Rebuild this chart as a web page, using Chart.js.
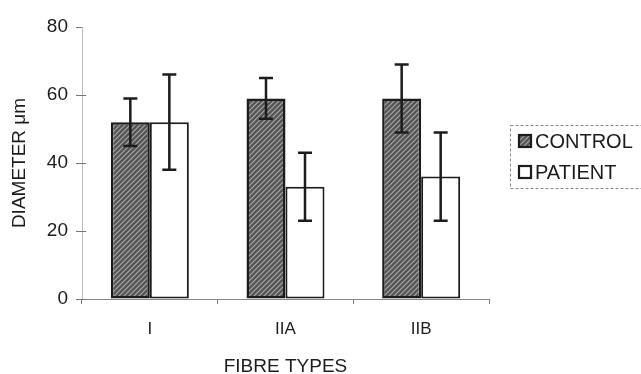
<!DOCTYPE html>
<html>
<head>
<meta charset="utf-8">
<script src="https://cdn.jsdelivr.net/npm/chart.js@4/dist/chart.umd.min.js"></script>
<style>
  html, body { margin: 0; padding: 0; background: #fff; }
  #wrap { width: 641px; height: 374px; }
</style>
</head>
<body>
<div id="wrap"><canvas id="c" width="641" height="374"></canvas></div>
<script>
const categories = ['I', 'IIA', 'IIB'];
const seriesNames = ['CONTROL', 'PATIENT'];
const controlMean = [52, 59, 59];
const controlErr = [7, 6, 10];
const patientMean = [52, 33, 36];
const patientErr = [14, 10, 13];
const yTicks = [0, 20, 40, 60, 80];
const yTitle = 'DIAMETER \u03BCm';
const xTitle = 'FIBRE TYPES';

const FONT = "'Liberation Sans', Arial, sans-serif";
const INK = '#1c1c1c';

function makeHatch() {
  const p = document.createElement('canvas');
  p.width = 5; p.height = 5;
  const g = p.getContext('2d');
  g.fillStyle = '#555555';
  g.fillRect(0, 0, 5, 5);
  g.strokeStyle = '#aaaaaa';
  g.lineWidth = 1.1;
  g.beginPath();
  g.moveTo(-1, 6); g.lineTo(6, -1);
  g.moveTo(-1, 1); g.lineTo(1, -1);
  g.moveTo(4, 6); g.lineTo(6, 4);
  g.stroke();
  return document.getElementById('c').getContext('2d').createPattern(p, 'repeat');
}
const hatch = makeHatch();

const errorBars = {
  id: 'errorBars',
  afterDatasetsDraw(chart) {
    const ctx = chart.ctx;
    const y = chart.scales.y;
    const errs = [controlErr, patientErr];
    ctx.save();
    ctx.strokeStyle = INK;
    ctx.lineWidth = 2.5;
    chart.data.datasets.forEach((ds, di) => {
      const meta = chart.getDatasetMeta(di);
      meta.data.forEach((bar, i) => {
        const v = ds.data[i], e = errs[di][i];
        const yt = y.getPixelForValue(v + e), yb = y.getPixelForValue(v - e);
        const x = bar.x, cap = 7;
        ctx.beginPath();
        ctx.moveTo(x, yt); ctx.lineTo(x, yb);
        ctx.moveTo(x - cap, yt); ctx.lineTo(x + cap, yt);
        ctx.moveTo(x - cap, yb); ctx.lineTo(x + cap, yb);
        ctx.stroke();
      });
    });
    ctx.restore();
  }
};

const extras = {
  id: 'extras',
  afterDraw(chart) {
    const ctx = chart.ctx;
    const y = chart.scales.y, x = chart.scales.x;
    ctx.save();
    // inner halves of the cross tick marks
    ctx.strokeStyle = '#777';
    ctx.lineWidth = 1;
    yTicks.slice(0, -1).forEach(t => {
      const py = Math.round(y.getPixelForValue(t)) + 0.5;
      ctx.beginPath(); ctx.moveTo(x.left, py); ctx.lineTo(x.left + 4, py); ctx.stroke();
    });
    // legend
    const lx = 510, ly = 125, lw = 140, lh = 63;
    ctx.setLineDash([3, 2]);
    ctx.strokeStyle = '#888';
    ctx.lineWidth = 1;
    ctx.strokeRect(lx + 0.5, ly + 0.5, lw, lh);
    ctx.setLineDash([]);
    const items = [
      { fill: hatch, cy: 141 },
      { fill: '#ffffff', cy: 172 }
    ];
    ctx.font = '20px ' + FONT;
    ctx.textBaseline = 'middle';
    items.forEach((it, i) => {
      ctx.fillStyle = it.fill;
      ctx.fillRect(519, it.cy - 6, 12, 12);
      ctx.strokeStyle = INK;
      ctx.lineWidth = 2.2;
      ctx.strokeRect(519, it.cy - 6, 12, 12);
      ctx.fillStyle = INK;
      ctx.fillText(seriesNames[i], 535, it.cy + 1);
    });
    ctx.restore();
  }
};

new Chart(document.getElementById('c'), {
  type: 'bar',
  data: {
    labels: categories,
    datasets: [
      { label: seriesNames[0], data: controlMean, backgroundColor: hatch,
        borderColor: INK, borderWidth: 2.5, borderSkipped: false,
        categoryPercentage: 0.575, barPercentage: 1 },
      { label: seriesNames[1], data: patientMean, backgroundColor: '#ffffff',
        borderColor: INK, borderWidth: 2, borderSkipped: false,
        categoryPercentage: 0.575, barPercentage: 1 }
    ]
  },
  options: {
    responsive: false,
    animation: false,
    layout: { padding: { left: 0, top: 27, right: 152, bottom: 0 } },
    plugins: { legend: { display: false }, tooltip: { enabled: false } },
    scales: {
      y: {
        min: 0, max: 80,
        afterBuildTicks(scale) { scale.ticks = yTicks.map(v => ({ value: v })); },
        afterFit(scale) { scale.width = 82; },
        ticks: { font: { family: FONT, size: 19 }, color: INK, padding: 8 },
        grid: { drawOnChartArea: false, tickLength: 6, color: '#777' },
        border: { display: true, dash: [3, 3], color: '#bbb', width: 1 },
        title: { display: true, text: yTitle, font: { family: FONT, size: 19 }, color: INK,
                 padding: { top: 8, bottom: 0 } }
      },
      x: {
        afterFit(scale) { scale.height = 75; },
        ticks: { font: { family: FONT, size: 17 }, color: INK, padding: 15 },
        grid: { drawOnChartArea: false, tickLength: 5, color: '#777', offset: true },
        border: { display: true, dash: [6, 4], color: '#888', width: 1 },
        title: { display: true, text: xTitle, font: { family: FONT, size: 19, lineHeight: 0.8 }, color: INK,
                 padding: { top: 0, bottom: 0 } }
      }
    }
  },
  plugins: [errorBars, extras]
});
</script>
</body>
</html>
